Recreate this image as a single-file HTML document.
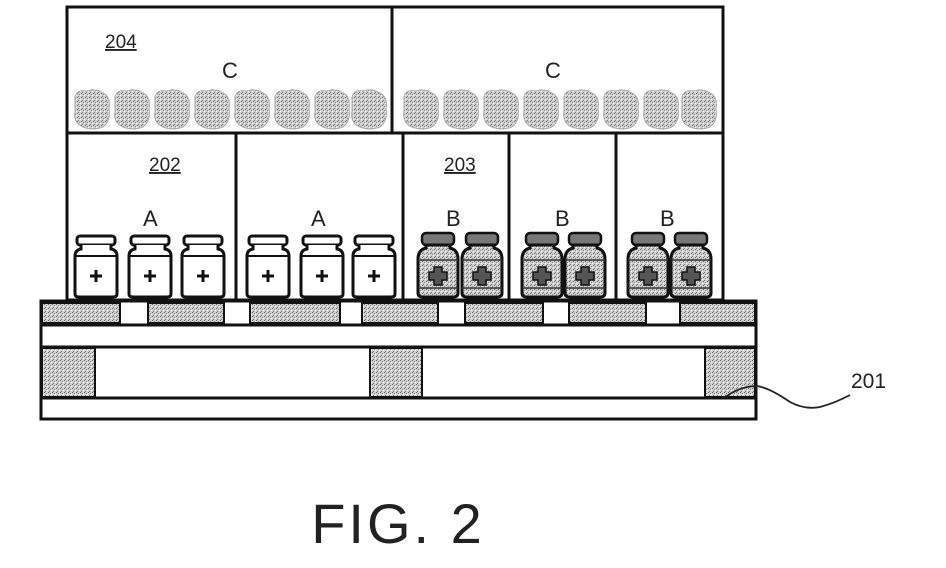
<!DOCTYPE html>
<html><head><style>
html,body{margin:0;padding:0;background:#fff;}
svg{display:block;}
text{font-family:"Liberation Sans",sans-serif;fill:#222;}
</style></head><body>
<svg width="946" height="568" viewBox="0 0 946 568" xmlns="http://www.w3.org/2000/svg">
<defs>
<pattern id="n" width="4" height="4" patternUnits="userSpaceOnUse">
<rect width="4" height="4" fill="#d0d0d0"/>
<rect x="0" y="0" width="1" height="1" fill="#666"/>
<rect x="2" y="1" width="1" height="1" fill="#888"/>
<rect x="1" y="3" width="1" height="1" fill="#777"/>
<rect x="3" y="2" width="1" height="1" fill="#fff"/>
</pattern>
<g id="blob">
<path d="M2,8 Q4,0 14,2 Q22,-1 30,4 Q38,8 36,20 Q38,32 30,38 Q20,42 10,38 Q0,34 2,22 Z" fill="url(#n)" stroke="#aaa" stroke-width="1"/>
</g>
<g id="va">
<rect x="2" y="0" width="38" height="9" rx="3" fill="#fff" stroke="#111" stroke-width="3"/>
<path d="M6,9 L6,13 Q0,14 0,20 L0,58 Q0,61 4,61 L38,61 Q42,61 42,58 L42,20 Q42,14 36,13 L36,9" fill="#fff" stroke="#111" stroke-width="3"/>
<line x1="0" y1="20" x2="42" y2="20" stroke="#111" stroke-width="2"/>
<line x1="21" y1="34" x2="21" y2="46" stroke="#111" stroke-width="3"/>
<line x1="15" y1="40" x2="27" y2="40" stroke="#111" stroke-width="3"/>
</g>
<g id="vb">
<rect x="4" y="0" width="32" height="12" rx="4" fill="#777" stroke="#111" stroke-width="2.5"/>
<path d="M8,12 L8,15 Q0,17 0,26 L0,60 Q0,64 5,64 L35,64 Q40,64 40,60 L40,26 Q40,17 32,15 L32,12 Z" fill="url(#n)" stroke="#111" stroke-width="3"/>
<line x1="0" y1="27" x2="40" y2="27" stroke="#333" stroke-width="1.5"/>
<line x1="0" y1="55" x2="40" y2="55" stroke="#333" stroke-width="1.5"/>
<path d="M16,34 h8 v5 h5 v8 h-5 v5 h-8 v-5 h-5 v-8 h5 z" fill="#555" stroke="#111" stroke-width="1.5"/>
</g>
</defs>

<rect x="67" y="7" width="325" height="126" fill="#fff" stroke="#111" stroke-width="3"/>
<rect x="392" y="7" width="331" height="126" fill="#fff" stroke="#111" stroke-width="3"/>
<text x="105" y="48" font-size="19" text-decoration="underline">204</text>
<text x="222" y="78" font-size="22">C</text>
<text x="545" y="78" font-size="22">C</text>
<use href="#blob" x="73" y="89"/><use href="#blob" x="113" y="89"/><use href="#blob" x="153" y="89"/><use href="#blob" x="193" y="89"/>
<use href="#blob" x="233" y="89"/><use href="#blob" x="273" y="89"/><use href="#blob" x="313" y="89"/><use href="#blob" x="350" y="89"/>
<use href="#blob" x="402" y="89"/><use href="#blob" x="442" y="89"/><use href="#blob" x="482" y="89"/><use href="#blob" x="522" y="89"/>
<use href="#blob" x="562" y="89"/><use href="#blob" x="602" y="89"/><use href="#blob" x="642" y="89"/><use href="#blob" x="680" y="89"/>

<rect x="67" y="133" width="169" height="167" fill="#fff" stroke="#111" stroke-width="3"/>
<rect x="236" y="133" width="167" height="167" fill="#fff" stroke="#111" stroke-width="3"/>
<rect x="403" y="133" width="106" height="167" fill="#fff" stroke="#111" stroke-width="3"/>
<rect x="509" y="133" width="107" height="167" fill="#fff" stroke="#111" stroke-width="3"/>
<rect x="616" y="133" width="107" height="167" fill="#fff" stroke="#111" stroke-width="3"/>
<text x="149" y="171" font-size="19" text-decoration="underline">202</text>
<text x="444" y="171" font-size="19" text-decoration="underline">203</text>
<text x="143" y="226" font-size="22">A</text>
<text x="311" y="226" font-size="22">A</text>
<text x="446" y="226" font-size="22">B</text>
<text x="555" y="226" font-size="22">B</text>
<text x="660" y="226" font-size="22">B</text>

<use href="#va" x="75" y="236"/><use href="#va" x="129" y="236"/><use href="#va" x="182" y="236"/>
<use href="#va" x="247" y="236"/><use href="#va" x="301" y="236"/><use href="#va" x="353" y="236"/>
<use href="#vb" x="418" y="233"/><use href="#vb" x="462" y="233"/>
<use href="#vb" x="522" y="233"/><use href="#vb" x="565" y="233"/>
<use href="#vb" x="628" y="233"/><use href="#vb" x="671" y="233"/>

<rect x="41" y="301" width="715" height="118" fill="#fff" stroke="#111" stroke-width="3"/>
<g fill="url(#n)" stroke="#111" stroke-width="2">
<rect x="42" y="303" width="78" height="20"/>
<rect x="148" y="303" width="76" height="20"/>
<rect x="250" y="303" width="90" height="20"/>
<rect x="362" y="303" width="76" height="20"/>
<rect x="465" y="303" width="78" height="20"/>
<rect x="569" y="303" width="77" height="20"/>
<rect x="680" y="303" width="75" height="20"/>
</g>
<line x1="41" y1="325" x2="756" y2="325" stroke="#111" stroke-width="3"/>
<line x1="41" y1="347" x2="756" y2="347" stroke="#111" stroke-width="3"/>
<line x1="41" y1="398" x2="756" y2="398" stroke="#111" stroke-width="3"/>
<g fill="url(#n)" stroke="#111" stroke-width="2">
<rect x="42" y="348" width="53" height="49"/>
<rect x="370" y="348" width="52" height="49"/>
<rect x="705" y="348" width="50" height="49"/>
</g>
<path d="M724,398 Q740,386 757,386 Q770,388 790,402 Q805,410 820,407 Q835,403 850,395" fill="none" stroke="#222" stroke-width="1.8"/>
<text x="851" y="388" font-size="21">201</text>

<text x="398" y="543" font-size="56" letter-spacing="3" text-anchor="middle" fill="#444">FIG. 2</text>
</svg>
</body></html>
